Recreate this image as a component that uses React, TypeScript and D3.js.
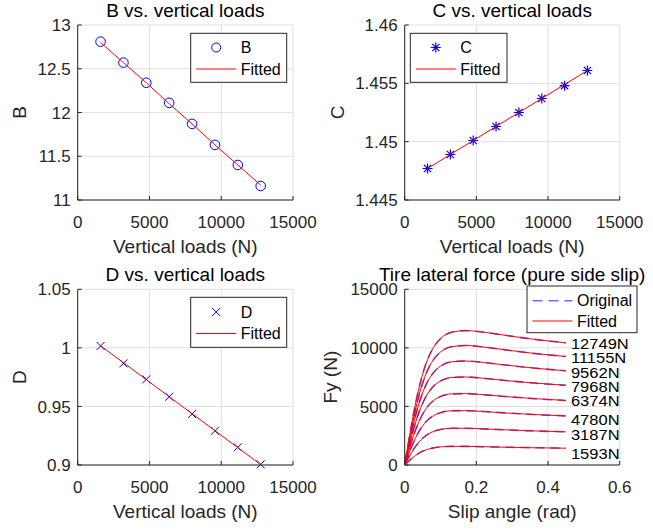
import React from "react";
import * as d3 from "d3";

// ---------- data ----------
const loads = [1593, 3187, 4780, 6374, 7968, 9562, 11155, 12749];
const loadLabels = ["1593N", "3187N", "4780N", "6374N", "7968N", "9562N", "11155N", "12749N"];

const B = [12.81, 12.57, 12.34, 12.11, 11.87, 11.63, 11.40, 11.16];
const Bfit = [12.80, 12.57, 12.34, 12.10, 11.87, 11.63, 11.40, 11.17];
const C = [1.4477, 1.4489, 1.4501, 1.4513, 1.4525, 1.4537, 1.4548, 1.4561];
const Cfit = [1.4477, 1.4489, 1.4501, 1.4513, 1.4525, 1.4537, 1.4549, 1.4561];
const D = [1.0016, 0.9868, 0.9731, 0.9583, 0.9435, 0.9292, 0.9151, 0.9006];
const Dfit = [1.0018, 0.9873, 0.9728, 0.9583, 0.9438, 0.9293, 0.9148, 0.9003];

const loadTicks = [0, 5000, 10000, 15000];
const loadTickLabels = ["0", "5000", "10000", "15000"];
const bTicks = [11, 11.5, 12, 12.5, 13];
const bTickLabels = ["11", "11.5", "12", "12.5", "13"];
const cTicks = [1.445, 1.45, 1.455, 1.46];
const cTickLabels = ["1.445", "1.45", "1.455", "1.46"];
const dTicks = [0.9, 0.95, 1, 1.05];
const dTickLabels = ["0.9", "0.95", "1", "1.05"];
const slipTicks = [0, 0.2, 0.4, 0.6];
const slipTickLabels = ["0", "0.2", "0.4", "0.6"];
const fyTicks = [0, 5000, 10000, 15000];
const fyTickLabels = ["0", "5000", "10000", "15000"];

// slip angle samples (rad) and lateral force (N) per load
const slip = [0.002, 0.01, 0.02, 0.03, 0.04, 0.06, 0.08, 0.10, 0.13, 0.17, 0.22, 0.28, 0.36, 0.45];
const fy1593 = [59, 293, 567, 809, 1010, 1297, 1460, 1544, 1591, 1591, 1561, 1520, 1474, 1434];
const fy3187 = [115, 567, 1100, 1571, 1967, 2534, 2862, 3034, 3133, 3138, 3082, 3002, 2910, 2831];
const fy4780 = [166, 824, 1599, 2287, 2870, 3712, 4205, 4470, 4626, 4642, 4564, 4446, 4310, 4191];
const fy6374 = [215, 1062, 2064, 2958, 3717, 4827, 5486, 5846, 6067, 6097, 5999, 5848, 5668, 5511];
const fy7968 = [259, 1284, 2499, 3586, 4514, 5886, 6713, 7171, 7463, 7515, 7401, 7217, 6998, 6804];
const fy9562 = [301, 1490, 2899, 4168, 5258, 6880, 7872, 8434, 8800, 8879, 8754, 8538, 8276, 8045];
const fy11155 = [339, 1678, 3269, 4709, 5951, 7820, 8979, 9646, 10093, 10205, 10074, 9831, 9529, 9262];
const fy12749 = [373, 1850, 3609, 5205, 6590, 8693, 10018, 10791, 11321, 11473, 11341, 11074, 10733, 10431];
const fyCurves = [fy1593, fy3187, fy4780, fy6374, fy7968, fy9562, fy11155, fy12749];
// y position (N) of the load labels at the curve ends
const labelFy = [999, 2561, 3901, 5464, 6684, 7880, 9194, 10390];

// ---------- style ----------
const FONT = "'Liberation Sans', Arial, Helvetica, sans-serif";
const AX = "#262626";
const GRID = "#dfdfdf";
const TICK_FS = 17;
const LABEL_FS = 19;
const LEG_FS = 16;

type PanelProps = {
  box: { l: number; r: number; t: number; b: number };
  xDomain: [number, number];
  yDomain: [number, number];
  xTicks: number[];
  xTickLabels: string[];
  yTicks: number[];
  yTickLabels: string[];
  title: string;
  xLabel: string;
  yLabel: string;
  yLabelX: number;
  children: (x: d3.ScaleLinear<number, number>, y: d3.ScaleLinear<number, number>) => React.ReactNode;
};

function Panel(p: PanelProps) {
  const { box } = p;
  const x = d3.scaleLinear().domain(p.xDomain).range([box.l, box.r]);
  const y = d3.scaleLinear().domain(p.yDomain).range([box.b, box.t]);
  const tl = 4;
  return (
    <g>
      {p.xTicks.map((t, i) => (
        <line key={"gx" + i} x1={x(t)} x2={x(t)} y1={box.t} y2={box.b} stroke={GRID} strokeWidth={1} />
      ))}
      {p.yTicks.map((t, i) => (
        <line key={"gy" + i} x1={box.l} x2={box.r} y1={y(t)} y2={y(t)} stroke={GRID} strokeWidth={1} />
      ))}
      {p.children(x, y)}
      <line x1={box.l} x2={box.r} y1={box.b} y2={box.b} stroke={AX} strokeWidth={1} />
      <line x1={box.l} x2={box.l} y1={box.t} y2={box.b} stroke={AX} strokeWidth={1} />
      {p.xTicks.map((t, i) => (
        <g key={"tx" + i}>
          <line x1={x(t)} x2={x(t)} y1={box.b} y2={box.b - tl} stroke={AX} strokeWidth={1} />
          <text x={x(t)} y={box.b + 28} textAnchor="middle" fontSize={TICK_FS} fill={AX} fontFamily={FONT}>
            {p.xTickLabels[i]}
          </text>
        </g>
      ))}
      {p.yTicks.map((t, i) => (
        <g key={"ty" + i}>
          <line x1={box.l} x2={box.l + tl} y1={y(t)} y2={y(t)} stroke={AX} strokeWidth={1} />
          <text x={box.l - 7} y={y(t)} dy="0.36em" textAnchor="end" fontSize={TICK_FS} fill={AX} fontFamily={FONT}>
            {p.yTickLabels[i]}
          </text>
        </g>
      ))}
      <text x={(box.l + box.r) / 2} y={box.t - 8.5} textAnchor="middle" fontSize={LABEL_FS} fill="#000" fontFamily={FONT}>
        {p.title}
      </text>
      <text x={(box.l + box.r) / 2} y={box.b + 53} textAnchor="middle" fontSize={LABEL_FS} fill={AX} fontFamily={FONT}>
        {p.xLabel}
      </text>
      <text
        transform={`translate(${p.yLabelX},${(box.t + box.b) / 2}) rotate(-90)`}
        textAnchor="middle"
        fontSize={LABEL_FS}
        fill={AX}
        fontFamily={FONT}
      >
        {p.yLabel}
      </text>
    </g>
  );
}

const circleMarker = (cx: number, cy: number, key: string | number, r = 4.8) => (
  <circle key={key} cx={cx} cy={cy} r={r} fill="none" stroke="#0000ff" strokeWidth={1} />
);
const starMarker = (cx: number, cy: number, key: string | number) => (
  <path
    key={key}
    transform={`translate(${cx},${cy})`}
    d="M-5,0H5M0,-5V5M-3.6,-3.6L3.6,3.6M-3.6,3.6L3.6,-3.6"
    stroke="#0000ff"
    strokeWidth={1.2}
    fill="none"
  />
);
const xMarker = (cx: number, cy: number, key: string | number) => (
  <path
    key={key}
    transform={`translate(${cx},${cy})`}
    d="M-4,-4L4,4M-4,4L4,-4"
    stroke="#0000ff"
    strokeWidth={1}
    fill="none"
  />
);

function Legend(props: {
  l: number;
  t: number;
  w: number;
  h: number;
  rows: { label: string; kind: "circle" | "star" | "x" | "red" | "dash" }[];
  rowY: number[];
}) {
  const { l, t, w, h, rows, rowY } = props;
  return (
    <g>
      <rect x={l} y={t} width={w} height={h} fill="#fff" stroke={AX} strokeWidth={1} />
      {rows.map((r, i) => {
        const cy = rowY[i];
        const x0 = l + 5.5;
        const x1 = x0 + 40;
        let mark: React.ReactNode = null;
        if (r.kind === "circle") mark = circleMarker((x0 + x1) / 2, cy, "m", 4.5);
        if (r.kind === "star") mark = starMarker((x0 + x1) / 2, cy, "m");
        if (r.kind === "x") mark = xMarker((x0 + x1) / 2, cy, "m");
        if (r.kind === "red") mark = <line x1={x0} x2={x1} y1={cy} y2={cy} stroke="#ff0000" strokeWidth={1} />;
        if (r.kind === "dash")
          mark = (
            <line x1={x0} x2={x1} y1={cy} y2={cy} stroke="#6a6aff" strokeWidth={1.5} strokeDasharray="10,6" />
          );
        return (
          <g key={i}>
            {mark}
            <text x={x1 + 4.5} y={cy} dy="0.36em" fontSize={LEG_FS} fill="#000" fontFamily={FONT}>
              {r.label}
            </text>
          </g>
        );
      })}
    </g>
  );
}

export default function App() {
  const leftBox1 = { l: 77.7, r: 293, t: 25, b: 200 };
  const rightBox1 = { l: 404.7, r: 619.7, t: 25, b: 200 };
  const leftBox2 = { l: 77.7, r: 293, t: 289.3, b: 465 };
  const rightBox2 = { l: 404.7, r: 619.7, t: 289.3, b: 465 };

  const fitLine = (x: d3.ScaleLinear<number, number>, y: d3.ScaleLinear<number, number>, vals: number[]) =>
    d3
      .line<number>()
      .x((_, i) => x(loads[i]))
      .y((v) => y(v))(vals) || "";

  return (
    <svg
      width={653}
      height={531}
      viewBox="0 0 653 531"
      style={{ position: "absolute", left: 0, top: 0, background: "#fff" }}
    >
      <rect x={0} y={0} width={653} height={531} fill="#fff" />
      <Panel
        box={leftBox1}
        xDomain={[0, 15000]}
        yDomain={[11, 13]}
        xTicks={loadTicks}
        xTickLabels={loadTickLabels}
        yTicks={bTicks}
        yTickLabels={bTickLabels}
        title="B vs. vertical loads"
        xLabel="Vertical loads (N)"
        yLabel="B"
        yLabelX={25.5}
      >
        {(x, y) => (
          <g>
            {B.map((v, i) => circleMarker(x(loads[i]), y(v), i))}
            <path d={fitLine(x, y, Bfit)} stroke="#ff0000" strokeWidth={1} fill="none" />
            <Legend
              l={190.7}
              t={33.3}
              w={96}
              h={49}
              rows={[
                { label: "B", kind: "circle" },
                { label: "Fitted", kind: "red" },
              ]}
              rowY={[47.5, 69]}
            />
          </g>
        )}
      </Panel>
      <Panel
        box={rightBox1}
        xDomain={[0, 15000]}
        yDomain={[1.445, 1.46]}
        xTicks={loadTicks}
        xTickLabels={loadTickLabels}
        yTicks={cTicks}
        yTickLabels={cTickLabels}
        title="C vs. vertical loads"
        xLabel="Vertical loads (N)"
        yLabel="C"
        yLabelX={344}
      >
        {(x, y) => (
          <g>
            {C.map((v, i) => starMarker(x(loads[i]), y(v), i))}
            <path d={fitLine(x, y, Cfit)} stroke="#ff0000" strokeWidth={1} fill="none" />
            <Legend
              l={410.3}
              t={33.3}
              w={96.7}
              h={49}
              rows={[
                { label: "C", kind: "star" },
                { label: "Fitted", kind: "red" },
              ]}
              rowY={[47.5, 69]}
            />
          </g>
        )}
      </Panel>
      <Panel
        box={leftBox2}
        xDomain={[0, 15000]}
        yDomain={[0.9, 1.05]}
        xTicks={loadTicks}
        xTickLabels={loadTickLabels}
        yTicks={dTicks}
        yTickLabels={dTickLabels}
        title="D vs. vertical loads"
        xLabel="Vertical loads (N)"
        yLabel="D"
        yLabelX={25.5}
      >
        {(x, y) => (
          <g>
            {D.map((v, i) => xMarker(x(loads[i]), y(v), i))}
            <path d={fitLine(x, y, Dfit)} stroke="#ff0000" strokeWidth={1} fill="none" />
            <Legend
              l={190.7}
              t={297.3}
              w={96}
              h={50}
              rows={[
                { label: "D", kind: "x" },
                { label: "Fitted", kind: "red" },
              ]}
              rowY={[312, 333.5]}
            />
          </g>
        )}
      </Panel>
      <Panel
        box={rightBox2}
        xDomain={[0, 0.6]}
        yDomain={[0, 15000]}
        xTicks={slipTicks}
        xTickLabels={slipTickLabels}
        yTicks={fyTicks}
        yTickLabels={fyTickLabels}
        title="Tire lateral force (pure side slip)"
        xLabel="Slip angle (rad)"
        yLabel="Fy (N)"
        yLabelX={337}
      >
        {(x, y) => {
          const line = d3
            .line<number>()
            .x((_, i) => x(slip[i]))
            .y((v) => y(v))
            .curve(d3.curveMonotoneX);
          return (
            <g>
              {fyCurves.map((c, k) => (
                <path
                  key={"o" + k}
                  d={line(c) || ""}
                  stroke="#5a5aff"
                  strokeWidth={1.6}
                  strokeDasharray="9,6"
                  fill="none"
                />
              ))}
              {fyCurves.map((c, k) => (
                <path key={"f" + k} d={line(c) || ""} stroke="#ff0000" strokeWidth={1} fill="none" />
              ))}
              {loadLabels.map((lab, k) => (
                <text
                  key={"l" + k}
                  transform={`translate(${x(slip[slip.length - 1]) + 5},${y(labelFy[k])}) scale(1,0.9)`}
                  dy="0.36em"
                  fontSize={16.5}
                  fill="#000"
                  fontFamily={FONT}
                >
                  {lab}
                </text>
              ))}
              <Legend
                l={527}
                t={286}
                w={110}
                h={46.7}
                rows={[
                  { label: "Original", kind: "dash" },
                  { label: "Fitted", kind: "red" },
                ]}
                rowY={[300.7, 321]}
              />
            </g>
          );
        }}
      </Panel>
    </svg>
  );
}
